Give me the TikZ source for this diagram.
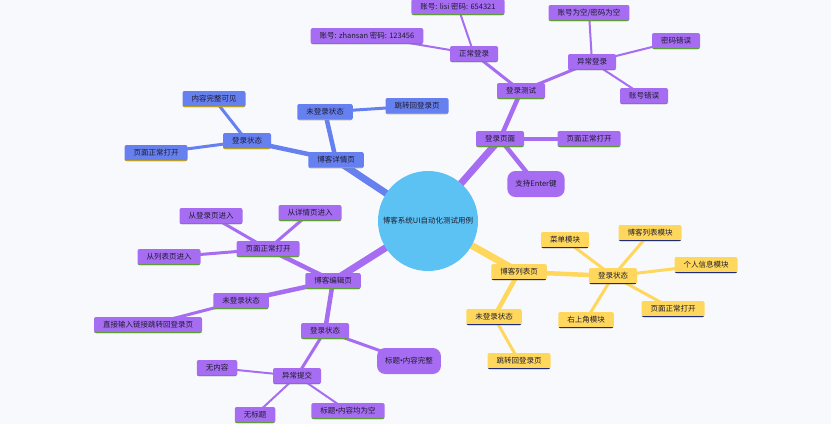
\documentclass[tikz,border=0pt]{standalone}
\usepackage{fontspec}
\setmainfont{Noto Sans CJK SC}
\newfontfamily\narrowfont{Noto Sans}
\pgfdeclarelayer{paper}
\pgfdeclarelayer{links}
\pgfsetlayers{paper,links,main}
\definecolor{mapPaper}{HTML}{F8F9FC}
\definecolor{mapText}{HTML}{1E1B2E}
\definecolor{mapRoot}{HTML}{5CC2F4}
\definecolor{mapPurple}{HTML}{A66DF3}
\definecolor{mapPurpleLine}{HTML}{5E9E34}
\definecolor{mapBlue}{HTML}{6680EF}
\definecolor{mapBlueLine}{HTML}{B9A026}
\definecolor{mapYellow}{HTML}{FFD75C}
\definecolor{mapYellowLine}{HTML}{1F2B78}

\begin{document}
\begin{tikzpicture}[
    x=1pt,y=-1pt,
    every node/.style={font=\fontsize{7.5}{9}\selectfont,align=center,text=mapText},
    topic/.style={circle,fill=mapRoot,minimum size=100pt,inner sep=0pt},
    pbox/.style={fill=mapPurple,rounded corners=2pt,minimum height=16pt,inner xsep=9pt,inner ysep=0pt,
        path picture={\draw[line width=3pt,mapPurpleLine] (path picture bounding box.south west) -- (path picture bounding box.south east);}},
    bbox/.style={fill=mapBlue,rounded corners=2pt,minimum height=16pt,inner xsep=9pt,inner ysep=0pt,
        path picture={\draw[line width=3pt,mapBlueLine] (path picture bounding box.south west) -- (path picture bounding box.south east);}},
    ybox/.style={fill=mapYellow,rounded corners=2pt,minimum height=16pt,inner xsep=9pt,inner ysep=0pt,
        path picture={\draw[line width=3pt,mapYellowLine] (path picture bounding box.south west) -- (path picture bounding box.south east);}},
    bubble/.style={fill=mapPurple,rounded corners=8pt,minimum height=26pt,inner xsep=8pt,inner ysep=0pt},
    trunk/.style={line width=7pt},
    limb/.style={line width=4.5pt},
    twig/.style={line width=3pt},
    leaf/.style={line width=2pt}
]
\useasboundingbox (0,0) rectangle (831,424);
\begin{pgfonlayer}{paper}
\fill[mapPaper] (0,0) rectangle (831,424);
\end{pgfonlayer}

\node[topic] (root) at (428,221) {博客系统UI自动化测试用例};

\node[pbox] (loginpage) at (500,139) {登录页面};
\node[pbox] (logintest) at (521,91) {登录测试};
\node[pbox] (normal) at (474,54) {正常登录};
\node[pbox] (lisi) at (458,7) {账号: lisi 密码: 654321};
\node[pbox] (zhansan) at (367,36) {账号: zhansan 密码: 123456};
\node[pbox] (abnormal) at (592,62) {异常登录};
\node[pbox] (empty) at (589,13) {账号为空/密码为空};
\node[pbox] (badpwd) at (676,41) {密码错误};
\node[pbox] (badacct) at (644,96) {账号错误};
\node[pbox] (loginopen) at (589,139) {页面正常打开};
\node[bubble] (enter) at (536,184) {支持Enter键};

\node[bbox] (detail) at (336,160) {博客详情页};
\node[bbox] (detailout) at (325,112) {未登录状态};
\node[bbox] (detailback) at (417,106) {跳转回登录页};
\node[bbox] (detailin) at (247,141) {登录状态};
\node[bbox] (detailfull) at (214,99) {内容完整可见};
\node[bbox] (detailopen) at (156,153) {页面正常打开};

\node[pbox] (edit) at (333,281) {博客编辑页};
\node[pbox] (editopen) at (268,249) {页面正常打开};
\node[pbox] (fromlogin) at (211,216) {从登录页进入};
\node[pbox] (fromdetail) at (310,213) {从详情页进入};
\node[pbox] (fromlist) at (169,257) {从列表页进入};
\node[pbox] (editout) at (241,301) {未登录状态};
\node[pbox] (editlink) at (148,325) {直接输入链接跳转回登录页};
\node[pbox] (editin) at (325,331) {登录状态};
\node[bubble] (complete) at (409,361) {标题{\narrowfont•}内容完整};
\node[pbox] (badpost) at (297,376) {异常提交};
\node[pbox] (notext) at (217,368) {无内容};
\node[pbox] (notitle) at (255,415) {无标题};
\node[pbox] (bothempty) at (348,411) {标题{\narrowfont•}内容均为空};

\node[ybox] (list) at (519,272) {博客列表页};
\node[ybox] (listin) at (613,276) {登录状态};
\node[ybox] (menu) at (565,240) {菜单模块};
\node[ybox] (bloglist) at (650,233) {博客列表模块};
\node[ybox] (profile) at (706,265) {个人信息模块};
\node[ybox] (listopen) at (673,309) {页面正常打开};
\node[ybox] (corner) at (586,320) {右上角模块};
\node[ybox] (listout) at (494,317) {未登录状态};
\node[ybox] (listback) at (519,361) {跳转回登录页};

\begin{pgfonlayer}{links}
\draw[trunk,mapPurple] (root.center) -- (loginpage.center);
\draw[limb,mapPurple] (loginpage.center) -- (logintest.center);
\draw[twig,mapPurple] (logintest.center) -- (normal.center);
\draw[leaf,mapPurple] (normal.center) -- (lisi.center);
\draw[leaf,mapPurple] (normal.center) -- (zhansan.center);
\draw[twig,mapPurple] (logintest.center) -- (abnormal.center);
\draw[leaf,mapPurple] (abnormal.center) -- (empty.center);
\draw[leaf,mapPurple] (abnormal.center) -- (badpwd.center);
\draw[leaf,mapPurple] (abnormal.center) -- (badacct.center);
\draw[limb,mapPurple] (loginpage.center) -- (loginopen.center);
\draw[limb,mapPurple] (loginpage.center) -- (enter.center);

\draw[trunk,mapBlue] (root.center) -- (detail.center);
\draw[limb,mapBlue] (detail.center) -- (detailout.center);
\draw[twig,mapBlue] (detailout.center) -- (detailback.center);
\draw[limb,mapBlue] (detail.center) -- (detailin.center);
\draw[twig,mapBlue] (detailin.center) -- (detailfull.center);
\draw[twig,mapBlue] (detailin.center) -- (detailopen.center);

\draw[trunk,mapPurple] (root.center) -- (edit.center);
\draw[limb,mapPurple] (edit.center) -- (editopen.center);
\draw[twig,mapPurple] (editopen.center) -- (fromlogin.center);
\draw[twig,mapPurple] (editopen.center) -- (fromdetail.center);
\draw[twig,mapPurple] (editopen.center) -- (fromlist.center);
\draw[limb,mapPurple] (edit.center) -- (editout.center);
\draw[twig,mapPurple] (editout.center) -- (editlink.center);
\draw[limb,mapPurple] (edit.center) -- (editin.center);
\draw[twig,mapPurple] (editin.center) -- (complete.center);
\draw[twig,mapPurple] (editin.center) -- (badpost.center);
\draw[leaf,mapPurple] (badpost.center) -- (notext.center);
\draw[leaf,mapPurple] (badpost.center) -- (notitle.center);
\draw[leaf,mapPurple] (badpost.center) -- (bothempty.center);

\draw[trunk,mapYellow] (root.center) -- (list.center);
\draw[limb,mapYellow] (list.center) -- (listin.center);
\draw[twig,mapYellow] (listin.center) -- (menu.center);
\draw[twig,mapYellow] (listin.center) -- (bloglist.center);
\draw[twig,mapYellow] (listin.center) -- (profile.center);
\draw[twig,mapYellow] (listin.center) -- (listopen.center);
\draw[twig,mapYellow] (listin.center) -- (corner.center);
\draw[limb,mapYellow] (list.center) -- (listout.center);
\draw[twig,mapYellow] (listout.center) -- (listback.center);
\end{pgfonlayer}
\end{tikzpicture}
\end{document}
